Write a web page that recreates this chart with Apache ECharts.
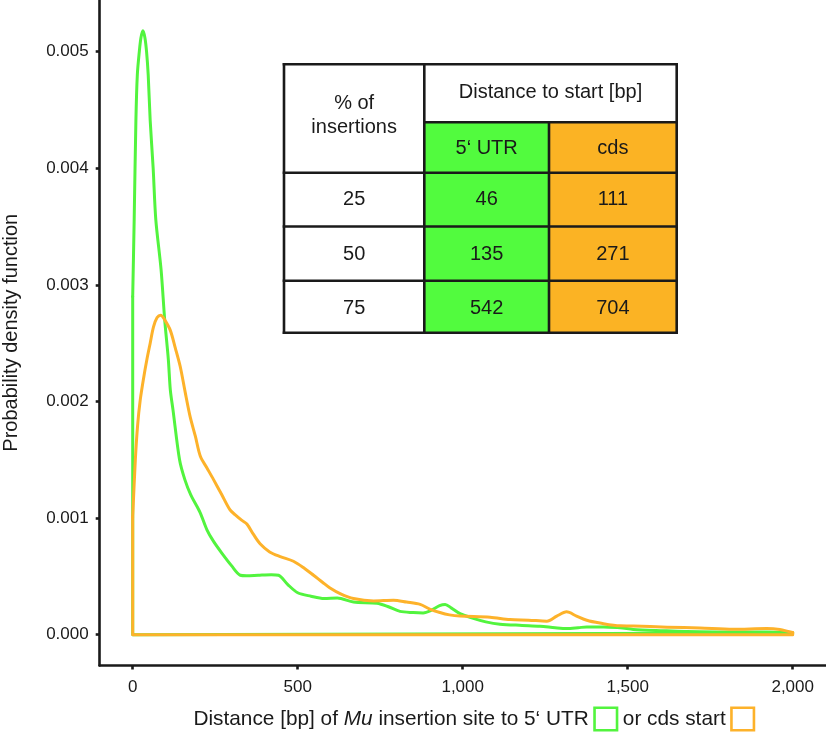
<!DOCTYPE html>
<html>
<head>
<meta charset="utf-8">
<script src="https://cdn.jsdelivr.net/npm/echarts@6/dist/echarts.min.js"></script>
<style>html,body{margin:0;padding:0;background:#fff}#c{width:826px;height:732px}</style>
</head>
<body>
<div id="c"></div>
<script>
// ---- data ----
const X_TICKS = [0, 500, 1000, 1500, 2000];
const Y_TICKS = [0, 0.001, 0.002, 0.003, 0.004, 0.005];
const X_RANGE = [-100, 2100];
const Y_RANGE = [-0.000264, 0.005443];

// density of insertion distance to 5' UTR start (green)
const utrCurve = [[0,0.0029],[4.5,0.00356],[9.7,0.00441],[14,0.0048],[20,0.005],[25,0.00512],[31,0.00518],[37,0.00512],[42,0.005],[47,0.0048],[53,0.00441],[62,0.004],[70,0.00356],[86,0.00313],[97,0.0027],[108,0.00236],[114,0.0021],[122,0.00193],[142,0.0015],[158,0.00133],[176,0.0012],[204,0.00105],[225,0.0009],[245,0.0008],[270,0.0007],[300,0.00059],[326,0.00051],[345,0.000505],[380,0.00051],[420,0.000515],[442,0.00051],[470,0.00043],[500,0.00036],[540,0.00033],[580,0.00031],[620,0.000315],[669,0.00028],[740,0.00027],[775,0.00024],[810,0.0002],[850,0.00019],[880,0.000187],[905,0.00021],[930,0.00025],[947,0.00026],[965,0.00023],[992,0.00018],[1032,0.00014],[1070,0.00011],[1113,0.00009],[1180,0.00008],[1234,0.000073],[1280,0.00006],[1315,0.000053],[1350,0.00006],[1376,0.000067],[1420,0.000066],[1477,0.00006],[1517,0.000045],[1600,0.000035],[1719,0.000025],[1820,0.000024],[1921,0.000024],[1970,0.00002],[2000,0.000015]];

// density of insertion distance to cds start (orange)
const cdsCurve = [[0,0.00101],[8,0.0015],[15,0.0018],[22.7,0.00201],[33,0.0022],[43,0.00236],[53,0.0025],[63,0.00264],[74,0.00272],[85,0.00274],[97,0.0027],[114,0.00261],[129,0.00246],[144,0.0023],[159,0.00208],[174,0.00187],[190,0.0017],[205,0.00153],[225,0.00143],[245,0.00133],[270,0.0012],[295,0.00107],[310,0.00103],[331,0.00098],[346,0.00095],[366,0.00086],[386,0.00078],[415,0.00071],[447,0.00067],[487,0.00063],[520,0.00057],[548,0.00051],[575,0.00045],[598,0.0004],[630,0.00035],[669,0.00031],[730,0.00029],[790,0.000296],[830,0.00028],[871,0.00026],[900,0.00022],[931,0.00019],[960,0.00017],[992,0.00016],[1083,0.00015],[1143,0.00013],[1200,0.000125],[1255,0.000116],[1285,0.00016],[1315,0.000196],[1345,0.00016],[1376,0.000124],[1416,0.0001],[1477,0.000076],[1517,0.000075],[1620,0.000065],[1719,0.000058],[1819,0.000047],[1921,0.000053],[1961,0.000045],[1990,0.000025],[2000,0.00002]];

// inset table
const tableHeader = ['% of\ninsertions', 'Distance to start [bp]', '5\u2018 UTR', 'cds'];
const tablePct = ['25', '50', '75'];
const tableUTR = [46, 135, 542];
const tableCDS = [111, 271, 704];

// ---- style ----
const GREEN = '#52f43e';
const ORANGE = '#fdb22a';
const GREEN_FILL = '#52fb3e';
const ORANGE_FILL = '#fbb324';
const INK = '#1a1a1a';
const FONT = 'Liberation Sans, Arial, Helvetica, sans-serif';

function outline(curve) {
  const first = curve[0], last = curve[curve.length - 1];
  return [[last[0], last[1]], [last[0], 0], [first[0], 0], [first[0], first[1]]];
}
function fmtX(v) { return String(Math.round(v)).replace(/\B(?=(\d{3})+(?!\d))/g, ','); }
function fmtY(v) { return Number(v).toFixed(3); }

// ---- table graphic ----
const colX = [284, 424.3, 549, 676.7];
const rowY = [64.3, 122.3, 172.7, 226.5, 280.7, 332.7];
const LW = 2.6;
const g = [];
g.push({type:'rect', shape:{x:colX[0], y:rowY[0], width:colX[3]-colX[0], height:rowY[5]-rowY[0]}, style:{fill:'#fff'}, z:10});
g.push({type:'rect', shape:{x:colX[1], y:rowY[1], width:colX[2]-colX[1], height:rowY[5]-rowY[1]}, style:{fill:GREEN_FILL}, z:11});
g.push({type:'rect', shape:{x:colX[2], y:rowY[1], width:colX[3]-colX[2], height:rowY[5]-rowY[1]}, style:{fill:ORANGE_FILL}, z:11});
function ln(x1,y1,x2,y2){ g.push({type:'line', shape:{x1,y1,x2,y2}, style:{stroke:INK, lineWidth:LW, lineCap:'square'}, z:12}); }
ln(colX[0],rowY[0],colX[3],rowY[0]);
ln(colX[0],rowY[5],colX[3],rowY[5]);
ln(colX[0],rowY[0],colX[0],rowY[5]);
ln(colX[3],rowY[0],colX[3],rowY[5]);
ln(colX[1],rowY[0],colX[1],rowY[5]);
ln(colX[2],rowY[1],colX[2],rowY[5]);
ln(colX[1],rowY[1],colX[3],rowY[1]);
ln(colX[0],rowY[2],colX[3],rowY[2]);
ln(colX[0],rowY[3],colX[3],rowY[3]);
ln(colX[0],rowY[4],colX[3],rowY[4]);
function tx(text, x, y) {
  g.push({type:'text', x, y, style:{text, fill:INK, font:'20px ' + FONT, textAlign:'center', textVerticalAlign:'middle', lineHeight:24}, z:13});
}
tx(tableHeader[0], (colX[0]+colX[1])/2, 115.5);
tx(tableHeader[1], (colX[1]+colX[3])/2, 92);
tx(tableHeader[2], (colX[1]+colX[2])/2, 148);
tx(tableHeader[3], (colX[2]+colX[3])/2, 148);
const rowCY = [199, 254.5, 308.5];
for (let i = 0; i < 3; i++) {
  tx(tablePct[i], (colX[0]+colX[1])/2, rowCY[i]);
  tx(String(tableUTR[i]), (colX[1]+colX[2])/2, rowCY[i]);
  tx(String(tableCDS[i]), (colX[2]+colX[3])/2, rowCY[i]);
}

// ---- chart ----
const chart = echarts.init(document.getElementById('c'), null, {renderer:'canvas'});
const axisLineStyle = {color: INK, width: 2.6};
const lineCommon = {type:'line', showSymbol:false, animation:false, silent:true};

chart.setOption({
  backgroundColor: '#fff',
  animation: false,
  textStyle: {fontFamily: FONT},
  grid: {left: 99.7, right: 0.3, top: 0, bottom: 66.5, containLabel: false, outerBoundsMode: 'none'},
  xAxis: {
    type:'value', min:X_RANGE[0], max:X_RANGE[1], position:'bottom',
    axisLine:{show:true, onZero:false, lineStyle:axisLineStyle},
    axisTick:{show:true, length:4, customValues:X_TICKS, lineStyle:{color:INK, width:2.6}},
    axisLabel:{show:true, customValues:X_TICKS, fontSize:17, color:INK, fontFamily:FONT, margin:13.5, formatter:fmtX},
    splitLine:{show:false},
    name: 'Distance [bp] of {i|Mu} insertion site to 5\u2018 UTR {g| } or cds start {o| }',
    nameLocation:'middle', nameGap:40,
    nameTextStyle:{fontSize:20.8, color:INK, fontFamily:FONT, lineHeight:27, padding:[0,0,0,22],
      rich:{
        i:{fontStyle:'italic', fontSize:20.8, color:INK, fontFamily:FONT, lineHeight:27},
        g:{width:22.5, height:22.5, borderColor:GREEN, borderWidth:2.6, lineHeight:27},
        o:{width:22.5, height:22.5, borderColor:ORANGE, borderWidth:2.6, lineHeight:27}
      }}
  },
  yAxis: {
    type:'value', min:Y_RANGE[0], max:Y_RANGE[1], position:'left',
    axisLine:{show:true, onZero:false, lineStyle:axisLineStyle},
    axisTick:{show:true, length:4, customValues:Y_TICKS, lineStyle:{color:INK, width:2.6}},
    axisLabel:{show:true, customValues:Y_TICKS, fontSize:17, color:INK, fontFamily:FONT, margin:11, formatter:fmtY},
    splitLine:{show:false},
    name:'Probability density function', nameLocation:'middle', nameGap:78,
    nameTextStyle:{fontSize:20, color:INK, fontFamily:FONT}
  },
  series: [
    Object.assign({}, lineCommon, {name:'5\u2018 UTR', data:utrCurve, smooth:0.3, z:2,
      lineStyle:{color:GREEN, width:3, cap:'round', join:'round'}}),
    Object.assign({}, lineCommon, {name:'5\u2018 UTR edge', data:outline(utrCurve), smooth:false, z:2,
      lineStyle:{color:GREEN, width:3, cap:'round', join:'round'}}),
    Object.assign({}, lineCommon, {name:'cds', data:cdsCurve, smooth:0.3, z:3,
      lineStyle:{color:ORANGE, width:3, cap:'round', join:'round'}}),
    Object.assign({}, lineCommon, {name:'cds edge', data:outline(cdsCurve), smooth:false, z:3,
      lineStyle:{color:ORANGE, width:3, cap:'round', join:'round'}})
  ],
  graphic: g
});
</script>
</body>
</html>
